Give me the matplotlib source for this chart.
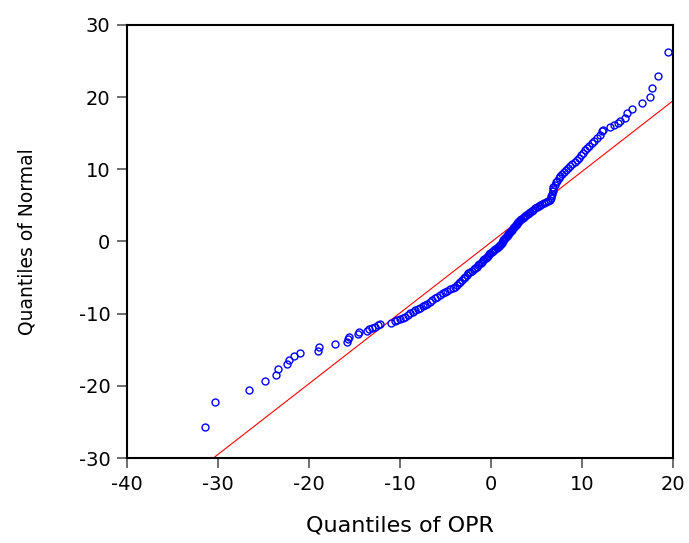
import matplotlib
matplotlib.use("Agg")
import matplotlib.pyplot as plt

# Quantiles of OPR (x) and Quantiles of Normal (y)
opr_q = [
    -31.4, -30.3, -26.6, -24.8, -23.6, -23.44, -22.45, -22.2, -21.65, -20.96,
    -18.98, -18.87, -17.1, -15.8, -15.7, -15.6, -14.6, -14.5, -13.6, -13.4,
    -13.1, -12.7, -12.4, -12.2, -11.0, -10.6, -10.3, -10.0, -9.7,
    -9.45, -9.15, -8.85, -8.60, -8.35, -8.05, -7.75, -7.50, -7.25,
    -7.00, -6.75, -6.45, -6.15, -5.90, -5.60, -5.30, -5.05,
    -4.80, -4.50, -4.20, -3.95, -3.75, -3.55, -3.38, -3.20, -3.02, -2.85, -2.68, -2.50,
    -2.30, -2.10, -1.90, -1.72, -1.57, -1.42, -1.28, -1.14, -1.00, -0.87, -0.73, -0.60, -0.47,
    -0.33, -0.20, -0.06, 0.08, 0.22, 0.35, 0.48, 0.61, 0.74, 0.87, 1.00,
    1.10, 1.19, 1.28, 1.37, 1.46, 1.55, 1.64, 1.73, 1.82, 1.91, 2.00, 2.10,
    2.20, 2.30, 2.40, 2.50, 2.61, 2.71, 2.81, 2.91, 3.01, 3.10, 3.20,
    3.34, 3.48, 3.62, 3.76, 3.90, 4.04, 4.17, 4.30,
    4.48, 4.66, 4.85, 5.03, 5.22, 5.40,
    5.62, 5.84, 6.06, 6.28, 6.50,
    6.58, 6.64, 6.70, 6.76, 6.81, 6.86,
    7.00, 7.15, 7.30, 7.45, 7.60, 7.82, 8.05, 8.25, 8.46, 8.68,
    8.92, 9.18, 9.44, 9.70, 9.90, 10.10, 10.33, 10.58, 10.82, 11.07,
    11.35, 11.6, 11.95, 12.15, 12.3, 13.1, 13.5, 13.9, 14.15, 14.75, 14.95,
    15.5, 16.6, 17.5, 17.7, 18.3, 19.5,
]
normal_q = [
    -25.66, -22.28, -20.57, -19.37, -18.45, -17.66, -17.0, -16.46, -15.9, -15.45,
    -15.13, -14.66, -14.2, -13.92, -13.47, -13.19, -12.82, -12.54, -12.4, -12.12,
    -11.98, -11.90, -11.6, -11.39, -11.25, -11.08, -10.92, -10.78, -10.6,
    -10.42, -10.20, -9.95, -9.72, -9.52, -9.35, -9.15, -8.98, -8.80,
    -8.60, -8.38, -8.12, -7.88, -7.68, -7.45, -7.18, -6.96,
    -6.80, -6.62, -6.42, -6.26, -6.02, -5.78, -5.55, -5.33, -5.10, -4.86, -4.63, -4.40,
    -4.22, -4.02, -3.82, -3.65, -3.50, -3.32, -3.15, -2.97, -2.80, -2.63, -2.45, -2.28, -2.10,
    -1.95, -1.80, -1.65, -1.50, -1.35, -1.20, -1.05, -0.90, -0.76, -0.62, -0.48,
    -0.32, -0.16, 0.00, 0.15, 0.30, 0.45, 0.60, 0.75, 0.90, 1.05, 1.20, 1.36,
    1.51, 1.66, 1.81, 1.96, 2.11, 2.26, 2.41, 2.56, 2.70, 2.84, 2.98,
    3.13, 3.28, 3.42, 3.57, 3.71, 3.86, 4.00, 4.13,
    4.28, 4.43, 4.59, 4.75, 4.91, 5.06,
    5.20, 5.34, 5.48, 5.62, 5.76,
    6.05, 6.35, 6.65, 6.95, 7.25, 7.58,
    7.88, 8.18, 8.45, 8.75, 9.02, 9.30, 9.60, 9.85, 10.12, 10.40,
    10.70, 11.00, 11.30, 11.60, 11.95, 12.30, 12.68, 13.00, 13.30, 13.60,
    13.95, 14.3, 14.76, 15.35, 15.45, 15.8, 16.1, 16.4, 16.7, 17.15, 17.75,
    18.35, 19.15, 20.06, 21.2, 22.97, 26.3,
]

# Reference line y = slope * x + intercept
line_slope = 0.98
line_intercept = -0.1

x_ticks = [-40, -30, -20, -10, 0, 10, 20]
y_ticks = [-30, -20, -10, 0, 10, 20, 30]

fig = plt.figure(figsize=(6.89, 5.43), dpi=100)
ax = fig.add_axes([0.1843, 0.1565, 0.7925, 0.7975])

ax.plot(opr_q, normal_q, linestyle="none", marker="o", markersize=5,
        markerfacecolor="none", markeredgecolor="#0000ff", markeredgewidth=1.0,
        zorder=3)
ax.axline((0, line_intercept), slope=line_slope, color="#ff0000", lw=0.8, zorder=2)

ax.set_xlim(-40, 20)
ax.set_ylim(-30, 30)
ax.set_xticks(x_ticks)
ax.set_yticks(y_ticks)
ax.set_xticklabels([str(v) for v in x_ticks])
ax.set_yticklabels([str(v) for v in y_ticks])

for s in ax.spines.values():
    s.set_linewidth(1.5)
    s.set_color("black")

ax.tick_params(axis="both", direction="out", length=7, width=1.2,
               color="#555555", labelsize=14, top=False, right=False)
ax.tick_params(axis="y", pad=5)
ax.tick_params(axis="x", pad=5)

ax.set_xlabel("Quantiles of OPR", fontsize=16, labelpad=16)
ax.set_ylabel("Quantiles of Normal", fontsize=13.5, labelpad=30)

fig.savefig("out.png", dpi=100)
